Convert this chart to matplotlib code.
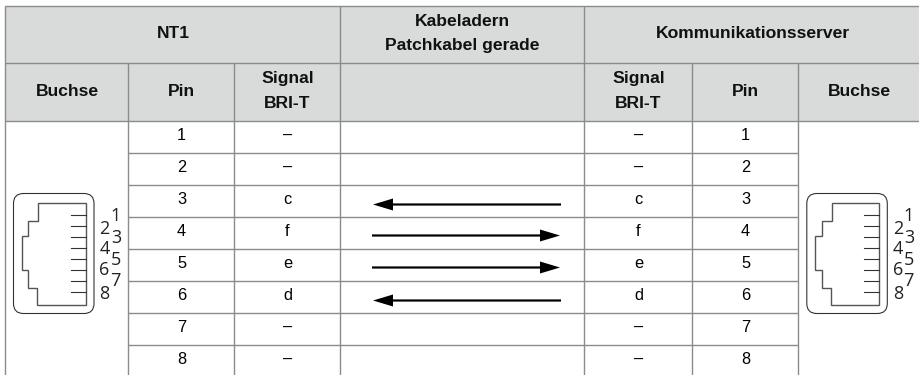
#!/usr/bin/env python3
"""Pin assignment table NT1 <-> Kommunikationsserver, drawn in pixel coordinates."""

import matplotlib
matplotlib.use("Agg")
import matplotlib.pyplot as plt
from matplotlib.patches import FancyBboxPatch, Polygon, Rectangle

pins = ["1", "2", "3", "4", "5", "6", "7", "8"]
signals = ["–", "–", "c", "f", "e", "d", "–", "–"]
# -1 = towards NT1, 1 = towards server, 0 = no wire
directions = [0, 0, -1, 1, 1, -1, 0, 0]
arrow_nudge = [0, 0, 4, 3, 3, 4, 0, 0]

group_heads = ["NT1", "Kabeladern\nPatchkabel gerade", "Kommunikationsserver"]
col_heads = ["Buchse", "Pin", "Signal\nBRI-T", "", "Signal\nBRI-T", "Pin", "Buchse"]
socket_labels = ["1", "2", "3", "4", "5", "6", "7", "8"]

# table grid, in image pixels (right edge of the table runs off the image)
col_x = [5.5, 128.5, 234.5, 340.5, 584.5, 692.5, 798.5, 921]
top_y = 5.5
group_y = 62.5
head_y = 120.5
row_h = 32
GRID = "#8a8c8c"
HEAD_BG = "#d9dbdb"
HEAD_SIZE = 12.6
BODY_SIZE = 11.8

plt.rcParams["font.family"] = ["Liberation Sans", "DejaVu Sans"]

fig = plt.figure(figsize=(9.2, 3.75), dpi=100)
ax = fig.add_axes([0, 0, 1, 1])
ax.set_xlim(0, 920)
ax.set_ylim(375, 0)
ax.axis("off")

# header backgrounds
ax.add_patch(Rectangle((col_x[0], top_y), col_x[-1] - col_x[0], head_y - top_y,
                       facecolor=HEAD_BG, edgecolor="none"))


def hline(x0, x1, y):
    ax.plot([x0, x1], [y, y], color=GRID, lw=1.0, solid_capstyle="butt")


def vline(x, y0, y1):
    ax.plot([x, x], [y0, y1], color=GRID, lw=1.0, solid_capstyle="butt")


bottom = 376
hline(col_x[0], col_x[-1], top_y)
hline(col_x[0], col_x[-1], group_y)
hline(col_x[0], col_x[-1], head_y)
for x in (col_x[0], col_x[3], col_x[4]):
    vline(x, top_y, bottom)
for x in (col_x[1], col_x[2], col_x[5], col_x[6]):
    vline(x, group_y, bottom)
for i in range(1, len(pins)):
    hline(col_x[1], col_x[6], head_y + i * row_h)

# group headers
group_spans = [(col_x[0], col_x[3]), (col_x[3], col_x[4]), (col_x[4], col_x[-1])]
for (x0, x1), txt in zip(group_spans, group_heads):
    ax.text((x0 + x1) / 2, (top_y + group_y) / 2 - 0.5, txt, ha="center", va="center",
            fontsize=HEAD_SIZE, fontweight="bold", color="#111111", linespacing=1.75)

# column headers
for i, txt in enumerate(col_heads):
    ax.text((col_x[i] + col_x[i + 1]) / 2, (group_y + head_y) / 2 - 0.5, txt, ha="center",
            va="center", fontsize=HEAD_SIZE, fontweight="bold", color="#111111", linespacing=1.75)

# body rows
for i, (pin, sig, d) in enumerate(zip(pins, signals, directions)):
    y = head_y + (i + 0.5) * row_h - 1
    ax.text((col_x[1] + col_x[2]) / 2, y, pin, ha="center", va="center", fontsize=BODY_SIZE)
    ax.text((col_x[2] + col_x[3]) / 2, y, sig, ha="center", va="center", fontsize=BODY_SIZE)
    ax.text((col_x[4] + col_x[5]) / 2, y, sig, ha="center", va="center", fontsize=BODY_SIZE)
    ax.text((col_x[5] + col_x[6]) / 2, y, pin, ha="center", va="center", fontsize=BODY_SIZE)
    if d:
        start = 372 if d > 0 else 561
        ax.arrow(start, y + 1 + arrow_nudge[i], d * 188, 0, width=2.2,
                 head_width=12, head_length=20, length_includes_head=True,
                 facecolor="black", edgecolor="none")


def draw_socket(dx):
    ax.add_patch(FancyBboxPatch((13.5 + 7 + dx, 193.5 + 7), 80.5 - 14, 120 - 14,
                                boxstyle="round,pad=7,rounding_size=10", facecolor="white",
                                edgecolor="#333333", lw=0.8))
    outline = [(38.5, 202.5), (86, 202.5), (86, 305), (37.5, 305), (37.5, 287.5), (28.5, 287.5),
               (28.5, 270), (22, 270), (22, 236), (28.5, 236), (28.5, 221), (38.5, 221)]
    ax.add_patch(Polygon([(x + dx, y) for x, y in outline], closed=True, facecolor="none",
                         edgecolor="#555555", lw=1.0))
    for k in range(8):
        y = 214.5 + k * 11.1
        ax.plot([71 + dx, 86 + dx], [y, y], color="#333333", lw=0.8)
    num_pos = [(115.5, 216), (104.5, 228.5), (116, 238), (104.5, 249.5),
               (116, 260), (104.5, 270), (115.5, 281.5), (104.5, 294)]
    for lab, (x, y) in zip(socket_labels, num_pos):
        ax.text(x + dx, y, lab, ha="center", va="center", fontsize=13,
                family=["Open Sans", "DejaVu Sans"], color="#222222")


draw_socket(0)
draw_socket(793.3)

fig.savefig("out.png", dpi=100)
plt.close(fig)
